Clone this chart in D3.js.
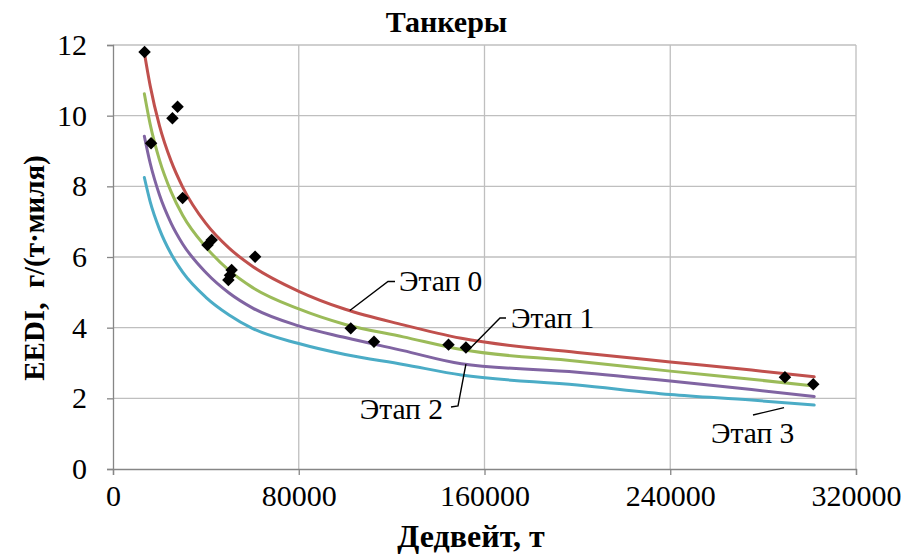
<!DOCTYPE html>
<html>
<head>
<meta charset="utf-8">
<script src="https://cdn.jsdelivr.net/npm/d3@7/dist/d3.min.js"></script>
<style>
  html, body { margin: 0; padding: 0; background: #fff; }
  svg { display: block; }
</style>
</head>
<body>
<svg id="chart" width="904" height="555"></svg>
<script>
// Reference curves: deadweight sample points and EEDI for each IMO phase
const curveDwt = [13500, 16000, 20000, 25000, 30000, 40000, 50000, 60000, 80000, 100000, 125000, 150000, 200000, 240000, 275000, 302000];
const phase0 = [11.78, 10.85, 9.72, 8.72, 7.98, 6.95, 6.25, 5.74, 5.03, 4.52, 4.08, 3.70, 3.30, 3.03, 2.80, 2.61];
const phase1 = [10.62, 9.76, 8.75, 7.85, 7.18, 6.28, 5.62, 5.14, 4.53, 4.09, 3.74, 3.38, 3.05, 2.77, 2.54, 2.35];
const phase2 = [9.42, 8.66, 7.76, 6.96, 6.37, 5.56, 4.98, 4.56, 4.05, 3.72, 3.35, 2.98, 2.74, 2.49, 2.25, 2.05];
const phase3 = [8.25, 7.57, 6.79, 6.09, 5.57, 4.86, 4.36, 3.98, 3.55, 3.24, 2.96, 2.66, 2.38, 2.11, 1.95, 1.81];

// Individual tankers
const shipDwt  = [13600, 25600, 27800, 16400, 30000, 40700, 42500, 61200, 51100, 49700, 50400, 102400, 112400, 144500, 152000, 289400, 301600];
const shipEedi = [11.80, 9.93, 10.25, 9.22, 7.67, 6.34, 6.48, 6.01, 5.63, 5.35, 5.48, 3.98, 3.60, 3.52, 3.44, 2.60, 2.40];

const xTicks = [0, 80000, 160000, 240000, 320000];
const yTicks = [0, 2, 4, 6, 8, 10, 12];

const seriesNames = ["Этап 0", "Этап 1", "Этап 2", "Этап 3"];
const seriesValues = [phase0, phase1, phase2, phase3];
const seriesColors = ["#C0504D", "#9BBB59", "#8064A2", "#4BACC6"];

const FONT = '"Liberation Serif", Tinos, "Times New Roman", "DejaVu Serif", serif';

const svg = d3.select("#chart");
const W = 904, H = 555;
const m = { left: 113, right: W - 856, top: 45, bottom: H - 469 };

const x = d3.scaleLinear().domain([0, 320000]).range([m.left, W - m.right]);
const y = d3.scaleLinear().domain([0, 12]).range([H - m.bottom, m.top]);

svg.append("rect").attr("width", W).attr("height", H).attr("fill", "#fff");

// Gridlines
const grid = svg.append("g").attr("stroke", "#BFBFBF").attr("stroke-width", 1.3);
grid.selectAll("line.h").data(yTicks.filter(d => d > 0)).join("line")
  .attr("x1", x(0)).attr("x2", x(320000))
  .attr("y1", d => y(d)).attr("y2", d => y(d));
grid.selectAll("line.v").data(xTicks.filter(d => d > 0)).join("line")
  .attr("y1", y(0)).attr("y2", y(12))
  .attr("x1", d => x(d)).attr("x2", d => x(d));

// Axes
const xAxis = svg.append("g").attr("transform", `translate(0,${y(0)})`)
  .call(d3.axisBottom(x).tickValues(xTicks).tickFormat(d3.format("d")).tickSize(6).tickPadding(10));
const yAxis = svg.append("g").attr("transform", `translate(${x(0)},0)`)
  .call(d3.axisLeft(y).tickValues(yTicks).tickFormat(d3.format("d")).tickSize(6).tickPadding(20));
[xAxis, yAxis].forEach(a => {
  a.attr("font-family", null).attr("font-size", null);
  a.selectAll("path.domain").attr("stroke", "#868686").attr("stroke-width", 1.3);
  a.selectAll(".tick line").attr("stroke", "#868686").attr("stroke-width", 1.3);
  a.selectAll(".tick text").style("font-family", FONT)
    .style("font-size", "30px").attr("fill", "#000");
});

// Phase curves
const line = d3.line()
  .x((d, i) => x(curveDwt[i]))
  .y(d => y(d))
  .curve(d3.curveMonotoneX);
svg.append("g").selectAll("path").data(seriesValues).join("path")
  .attr("d", d => line(d))
  .attr("fill", "none")
  .attr("stroke", (d, i) => seriesColors[i])
  .attr("stroke-width", 3)
  .attr("stroke-linecap", "round");

// Ship points as black diamonds
svg.append("g").selectAll("path").data(shipDwt).join("path")
  .attr("d", d3.symbol(d3.symbolSquare, 78))
  .attr("transform", (d, i) => `translate(${x(d)},${y(shipEedi[i])}) rotate(45)`)
  .attr("fill", "#000");

// Phase labels with leader lines (anchored on the curve at a given deadweight)
const labelSpecs = [
  { s: 0, at: 102000, pts: [[388, 281.5], [395, 281.5]], tx: 399, ty: 291, anchor: "start" },
  { s: 1, at: 153000, pts: [[500, 318], [506, 318]], tx: 511, ty: 328, anchor: "start" },
  { s: 2, at: 152000, pts: [[458, 406], [451, 407]], tx: 443, ty: 419, anchor: "end" },
  { s: 3, at: 289000, pts: [[753, 415]], tx: 711, ty: 443, anchor: "start" }
];
const leaders = svg.append("g");
labelSpecs.forEach(spec => {
  const vals = seriesValues[spec.s];
  const yv = d3.scaleLinear().domain(curveDwt).range(vals)(spec.at);
  const start = [x(spec.at), y(yv) + (spec.s === 3 ? 5 : 0)];
  leaders.append("path")
    .attr("d", d3.line()([start, ...spec.pts]))
    .attr("fill", "none").attr("stroke", "#000").attr("stroke-width", 1.4);
  leaders.append("text")
    .attr("x", spec.tx).attr("y", spec.ty)
    .attr("text-anchor", spec.anchor)
    .style("font-family", FONT).style("font-size", "29.5px")
    .text(seriesNames[spec.s]);
});

// Titles
svg.append("text").attr("x", 446.5).attr("y", 32).attr("text-anchor", "middle")
  .style("font-family", FONT).style("font-size", "30px").style("font-weight", "bold")
  .text("Танкеры");
svg.append("text").attr("x", 471).attr("y", 547).attr("text-anchor", "middle")
  .style("font-family", FONT).style("font-size", "32px").style("font-weight", "bold")
  .text("Дедвейт, т");
svg.append("text")
  .attr("transform", `translate(44,268) rotate(-90)`)
  .attr("text-anchor", "middle")
  .style("font-family", FONT).style("font-size", "29px").style("font-weight", "bold")
  .style("white-space", "pre")
  .text("EEDI,  г/(т·миля)");
</script>
</body>
</html>
